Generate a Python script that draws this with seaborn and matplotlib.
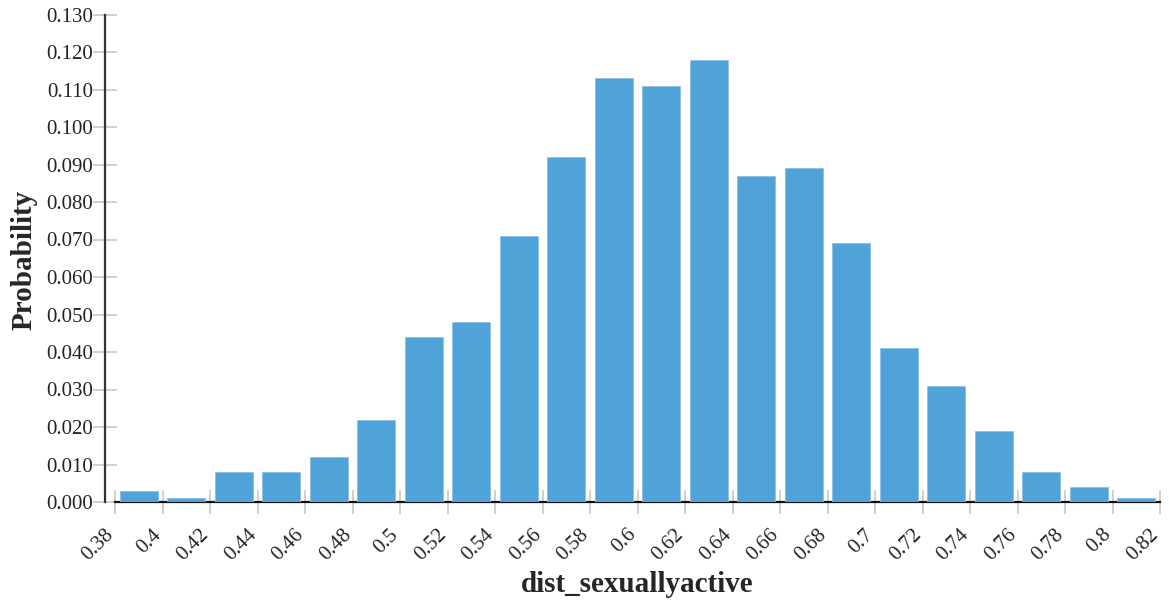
import numpy as np
import pandas as pd
import matplotlib
matplotlib.use("Agg")
import matplotlib.pyplot as plt
import matplotlib.transforms as mtransforms
import seaborn as sns

# Bin edges of dist_sexuallyactive (width 0.02) and the probability of each bin
bin_edges = [0.38, 0.40, 0.42, 0.44, 0.46, 0.48, 0.50, 0.52, 0.54, 0.56, 0.58, 0.60,
             0.62, 0.64, 0.66, 0.68, 0.70, 0.72, 0.74, 0.76, 0.78, 0.80, 0.82]
probabilities = [0.003, 0.001, 0.008, 0.008, 0.012, 0.022, 0.044, 0.048, 0.071, 0.092,
                 0.113, 0.111, 0.118, 0.087, 0.089, 0.069, 0.041, 0.031, 0.019, 0.008,
                 0.004, 0.001]
x_tick_labels = ["0.38", "0.4", "0.42", "0.44", "0.46", "0.48", "0.5", "0.52", "0.54",
                 "0.56", "0.58", "0.6", "0.62", "0.64", "0.66", "0.68", "0.7", "0.72",
                 "0.74", "0.76", "0.78", "0.8", "0.82"]
y_ticks = [0.000, 0.010, 0.020, 0.030, 0.040, 0.050, 0.060, 0.070, 0.080, 0.090,
           0.100, 0.110, 0.120, 0.130]

edges = np.array(bin_edges)
centers = (edges[:-1] + edges[1:]) / 2
df = pd.DataFrame({"dist_sexuallyactive": centers, "Probability": probabilities})

sns.set_style("white")
plt.rcParams["font.family"] = ["Liberation Serif", "DejaVu Serif"]

W, H = 1169, 601
fig = plt.figure(figsize=(W / 100, H / 100), dpi=100)
left_px, right_px, top_px, bottom_px = 105, 1166, 14.5, 502
ax_h = bottom_px - top_px
ax = fig.add_axes([left_px / W, 1 - bottom_px / H,
                   (right_px - left_px) / W, ax_h / H])

sns.histplot(data=df, x="dist_sexuallyactive", weights="Probability", bins=list(bin_edges),
             shrink=0.8, stat="count", color="#4fa3d9", alpha=1.0,
             edgecolor="#8cc0e4", linewidth=0.6, ax=ax, zorder=3)

# x range so that 0.38 sits 10px right of the y axis
px_per_unit = (1160 - 115) / (0.82 - 0.38)
ax.set_xlim(0.38 - (115 - left_px) / px_per_unit, 0.82 + (right_px - 1160) / px_per_unit)
ax.set_ylim(0, 0.13)

ax.set_xticks(bin_edges)
ax.set_xticklabels(x_tick_labels, rotation=45, ha="right", va="center",
                   rotation_mode="anchor", fontsize=15)
ax.set_yticks(y_ticks)
ax.set_yticklabels([f"{v:.3f}" for v in y_ticks], fontsize=15)

ax.tick_params(axis="both", which="major", bottom=True, left=True,
               direction="inout", length=17, width=1.2,
               color="#c8c8c8", labelcolor="#222222")
ax.tick_params(axis="y", pad=0)
ax.tick_params(axis="x", pad=13)

# nudge the rotated x labels so their right ends line up under the ticks
shift = mtransforms.ScaledTranslation(-4 / 100, 0, fig.dpi_scale_trans)
for lbl in ax.get_xticklabels():
    lbl.set_transform(lbl.get_transform() + shift)

for side in ("top", "right"):
    ax.spines[side].set_visible(False)
ax.spines["left"].set_color("#333333")
ax.spines["left"].set_linewidth(1.6)
ax.spines["bottom"].set_color("#111111")
ax.spines["bottom"].set_linewidth(1.6)
ax.spines["bottom"].set_bounds(0.38, 0.82)
ax.spines["bottom"].set_zorder(2)

ax.set_xlabel("dist_sexuallyactive", fontsize=21, fontweight="bold", va="center")
ax.xaxis.set_label_coords(0.5 + (637 - (left_px + right_px) / 2) / (right_px - left_px),
                          (bottom_px - 585) / ax_h)
ax.set_ylabel("Probability", fontsize=21, fontweight="bold", va="center")
ax.yaxis.set_label_coords(-(left_px - 24) / (right_px - left_px),
                          (bottom_px - 260) / ax_h)
ax.grid(False)

fig.savefig("out.png", dpi=100)
